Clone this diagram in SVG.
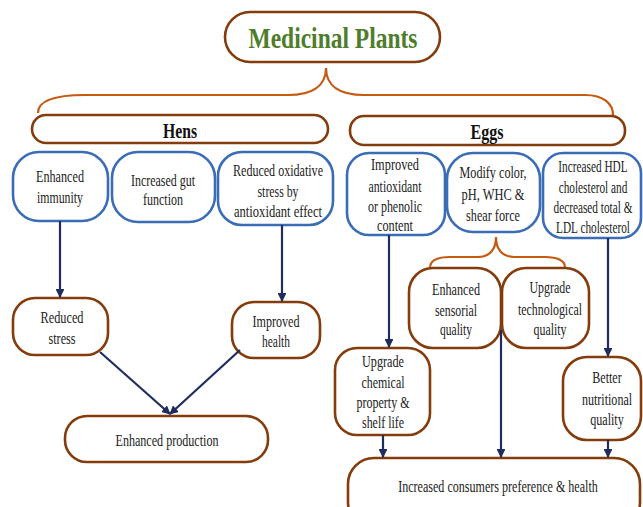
<svg xmlns="http://www.w3.org/2000/svg" width="643" height="507" viewBox="0 0 643 507">
<defs>
<style>
.bn{fill:#fff;stroke:#843c0c;stroke-width:2.6}
.bl{fill:#fff;stroke:#3a6db5;stroke-width:2.6}
.br{fill:none;stroke:#c55a11;stroke-width:2.2}
.t{font-family:"Liberation Serif","Times New Roman",serif;font-size:17px;fill:#222;text-anchor:middle}
.h{font-family:"Liberation Serif","Times New Roman",serif;font-size:21px;font-weight:bold;fill:#111;text-anchor:middle}
.ti{font-family:"Liberation Serif","Times New Roman",serif;font-size:30px;font-weight:bold;fill:#4e7d2b;text-anchor:middle}
.c{fill:none;stroke:#1f2d5e;stroke-width:2.2}
</style>
<marker id="ah" viewBox="0 0 10 10" refX="9" refY="5" markerWidth="4" markerHeight="4" orient="auto" markerUnits="strokeWidth">
<path d="M0,0 L10,5 L0,10 z" fill="#1f2d5e"/>
</marker>
</defs>
<rect width="643" height="507" fill="#fff"/>

<g id="braces">
<path class="br" d="M38,113 C38,101 55,95 85,95 L288,95 C312,95 326,86 326,68 C326,86 340,95 364,95 L585,95 C604,95 613,104 613,115"/>
<path class="br" d="M430,268 C430,261 437,257 450,257 L478,257 C490,257 496,249 496,237 C496,249 502,257 514,257 L545,257 C558,257 565,261 565,267"/>
</g>

<g id="title">
<rect class="bn" x="225" y="12" width="215" height="50" rx="25"/>
<text class="ti" x="333" y="48" textLength="169" lengthAdjust="spacingAndGlyphs">Medicinal Plants</text>
</g>

<g id="hens">
<rect class="bn" x="32" y="115" width="296" height="28" rx="14"/>
<text class="h" x="180" y="138" textLength="34" lengthAdjust="spacingAndGlyphs">Hens</text>
</g>
<g id="eggs">
<rect class="bn" x="350" y="116" width="275" height="29" rx="14"/>
<text class="h" x="487" y="139" textLength="33" lengthAdjust="spacingAndGlyphs">Eggs</text>
</g>

<g id="enhanced-immunity">
<rect class="bl" x="13" y="152" width="95" height="69" rx="26"/>
<text class="t" x="60" y="182" textLength="48" lengthAdjust="spacingAndGlyphs">Enhanced</text>
<text class="t" x="60" y="203" textLength="46" lengthAdjust="spacingAndGlyphs">immunity</text>
</g>
<g id="increased-gut">
<rect class="bl" x="112" y="152" width="103" height="70" rx="26"/>
<text class="t" x="163" y="186" textLength="64" lengthAdjust="spacingAndGlyphs">Increased gut</text>
<text class="t" x="163" y="205" textLength="40" lengthAdjust="spacingAndGlyphs">function</text>
</g>
<g id="reduced-oxidative">
<rect class="bl" x="218" y="152" width="115" height="73" rx="24"/>
<text class="t" x="278" y="176" textLength="90" lengthAdjust="spacingAndGlyphs">Reduced oxidative</text>
<text class="t" x="278" y="197" textLength="41" lengthAdjust="spacingAndGlyphs">stress by</text>
<text class="t" x="278" y="217" textLength="88" lengthAdjust="spacingAndGlyphs">antioxidant effect</text>
</g>

<g id="improved-antioxidant">
<rect class="bl" x="347" y="153" width="98" height="82" rx="22"/>
<text class="t" x="395" y="170" textLength="48" lengthAdjust="spacingAndGlyphs">Improved</text>
<text class="t" x="395" y="192" textLength="53" lengthAdjust="spacingAndGlyphs">antioxidant</text>
<text class="t" x="395" y="212" textLength="54" lengthAdjust="spacingAndGlyphs">or phenolic</text>
<text class="t" x="395" y="231" textLength="36" lengthAdjust="spacingAndGlyphs">content</text>
</g>
<g id="modify-color">
<rect class="bl" x="447" y="153" width="93" height="79" rx="26"/>
<text class="t" x="493" y="178" textLength="67" lengthAdjust="spacingAndGlyphs">Modify color,</text>
<text class="t" x="493" y="200" textLength="63" lengthAdjust="spacingAndGlyphs">pH, WHC &amp;</text>
<text class="t" x="493" y="221" textLength="54" lengthAdjust="spacingAndGlyphs">shear force</text>
</g>
<g id="increased-hdl">
<rect class="bl" x="543" y="153" width="98" height="85" rx="20"/>
<g transform="translate(593,0) scale(0.665,1)">
<text class="t" x="0" y="172">Increased HDL</text>
<text class="t" x="0" y="193">cholesterol and</text>
<text class="t" x="0" y="213">decreased total &amp;</text>
<text class="t" x="0" y="233">LDL cholesterol</text>
</g>
</g>

<g id="reduced-stress">
<rect class="bn" x="13" y="298" width="95" height="57" rx="22"/>
<text class="t" x="62" y="323" textLength="43" lengthAdjust="spacingAndGlyphs">Reduced</text>
<text class="t" x="62" y="344" textLength="27" lengthAdjust="spacingAndGlyphs">stress</text>
</g>
<g id="improved-health">
<rect class="bn" x="232" y="302" width="88" height="56" rx="22"/>
<text class="t" x="276" y="327" textLength="47" lengthAdjust="spacingAndGlyphs">Improved</text>
<text class="t" x="276" y="347" textLength="28" lengthAdjust="spacingAndGlyphs">health</text>
</g>
<g id="enhanced-production">
<rect class="bn" x="65" y="416" width="203" height="46" rx="22"/>
<text class="t" x="167" y="446" textLength="103" lengthAdjust="spacingAndGlyphs">Enhanced production</text>
</g>

<g id="enhanced-sensorial">
<rect class="bn" x="409" y="268" width="92" height="80" rx="24"/>
<text class="t" x="456" y="295" textLength="48" lengthAdjust="spacingAndGlyphs">Enhanced</text>
<text class="t" x="456" y="316" textLength="42" lengthAdjust="spacingAndGlyphs">sensorial</text>
<text class="t" x="456" y="335" textLength="32" lengthAdjust="spacingAndGlyphs">quality</text>
</g>
<g id="upgrade-technological">
<rect class="bn" x="502" y="268" width="87" height="80" rx="24"/>
<text class="t" x="550" y="293" textLength="41" lengthAdjust="spacingAndGlyphs">Upgrade</text>
<text class="t" x="550" y="315" textLength="64" lengthAdjust="spacingAndGlyphs">technological</text>
<text class="t" x="550" y="335" textLength="33" lengthAdjust="spacingAndGlyphs">quality</text>
</g>
<g id="upgrade-chemical">
<rect class="bn" x="335" y="348" width="95" height="87" rx="22"/>
<text class="t" x="383" y="367" textLength="42" lengthAdjust="spacingAndGlyphs">Upgrade</text>
<text class="t" x="383" y="388" textLength="43" lengthAdjust="spacingAndGlyphs">chemical</text>
<text class="t" x="383" y="408" textLength="53" lengthAdjust="spacingAndGlyphs">property &amp;</text>
<text class="t" x="383" y="428" textLength="42" lengthAdjust="spacingAndGlyphs">shelf life</text>
</g>
<g id="better-nutritional">
<rect class="bn" x="563" y="357" width="78" height="83" rx="24"/>
<g transform="translate(607,0) scale(0.71,1)">
<text class="t" x="0" y="383">Better</text>
<text class="t" x="0" y="405">nutritional</text>
<text class="t" x="0" y="425">quality</text>
</g>
</g>
<g id="increased-consumers">
<rect class="bn" x="348" y="458" width="292" height="70" rx="26"/>
<text class="t" transform="translate(498,0) scale(0.71,1)" x="0" y="492">Increased consumers preference &amp; health</text>
</g>

<g id="connectors">
<line class="c" x1="60" y1="221" x2="60" y2="297" marker-end="url(#ah)"/>
<line class="c" x1="282" y1="225" x2="282" y2="301" marker-end="url(#ah)"/>
<line class="c" x1="100" y1="352" x2="170" y2="414" marker-end="url(#ah)"/>
<line class="c" x1="240" y1="350" x2="170" y2="414" marker-end="url(#ah)"/>
<line class="c" x1="389" y1="235" x2="389" y2="347" marker-end="url(#ah)"/>
<line class="c" x1="608" y1="238" x2="608" y2="356" marker-end="url(#ah)"/>
<line class="c" x1="383" y1="435" x2="383" y2="457" marker-end="url(#ah)"/>
<line class="c" x1="501" y1="330" x2="501" y2="457" marker-end="url(#ah)"/>
<line class="c" x1="608" y1="440" x2="608" y2="457" marker-end="url(#ah)"/>
</g>
</svg>
